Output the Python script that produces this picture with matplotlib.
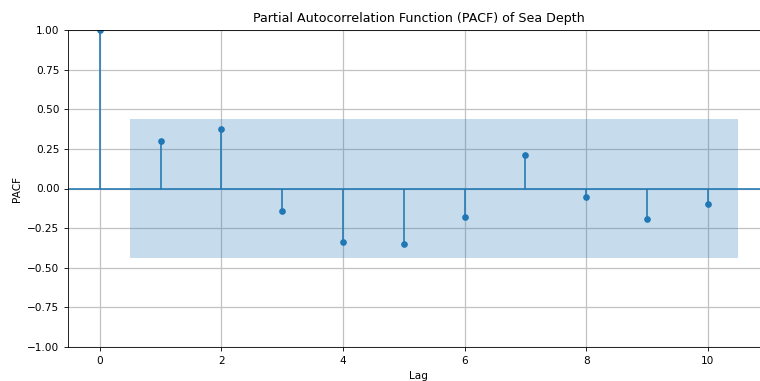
import matplotlib
matplotlib.use("Agg")
import matplotlib.pyplot as plt
import numpy as np

# PACF values
lags = [0, 1, 2, 3, 4, 5, 6, 7, 8, 9, 10]
pacf_vals = [1.0, 0.30, 0.375, -0.144, -0.335, -0.35, -0.178, 0.213, -0.054, -0.193, -0.10]
conf_bound = 0.436

s = 0.76  # original was rendered larger and shrunk
plt.rcParams['font.size'] = 10 * s
plt.rcParams['axes.linewidth'] = 0.8 * s
plt.rcParams['xtick.major.width'] = 0.8 * s
plt.rcParams['ytick.major.width'] = 0.8 * s
plt.rcParams['xtick.major.size'] = 3.5 * s
plt.rcParams['ytick.major.size'] = 3.5 * s

fig = plt.figure(figsize=(7.6, 3.81), dpi=100)
ax = fig.add_axes([68 / 760, 1 - 347 / 381, 702 / 760, 317 / 381])

lag_arr = np.array(lags)
vals = np.array(pacf_vals)
ax.vlines(lag_arr, [0], vals, color='#1f77b4', linewidth=1.5 * s)
ax.plot(lag_arr, vals, 'o', color='#1f77b4', markersize=5 * s)
ax.axhline(0, color='#1f77b4', linewidth=1.5 * s)

band_x = lag_arr[1:].astype(float)
band_x[0] -= 0.5
band_x[-1] += 0.5
ax.fill_between(band_x, -conf_bound, conf_bound, alpha=0.25, linewidth=0)

ax.set_xlim(-0.525, 11.025)
ax.set_ylim(-1.0, 1.0)
ax.set_yticks(np.arange(-1.0, 1.01, 0.25))
ax.set_xticks([0, 2, 4, 6, 8, 10])
ax.grid(True, linewidth=0.9, color='#c2c2c2')
ax.set_axisbelow(True)

ax.set_title('Partial Autocorrelation Function (PACF) of Sea Depth', fontsize=12 * s)
ax.set_xlabel('Lag')
ax.set_ylabel('PACF')

fig.savefig('out.png', dpi=100)
